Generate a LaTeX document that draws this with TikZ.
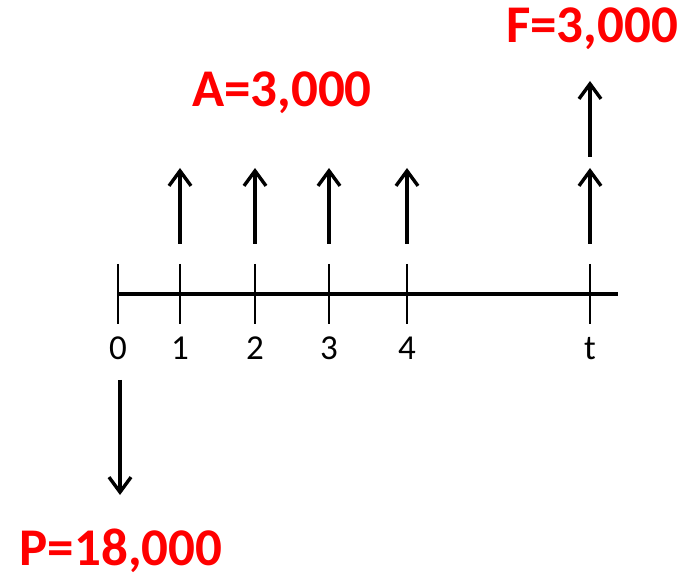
\documentclass[tikz,border=0pt]{standalone}
\usepackage{fontspec}
\setmainfont{Carlito}
\usetikzlibrary{arrows.meta}
\begin{document}
\begin{tikzpicture}[x=1pt,y=-1pt,
  axisline/.style={line width=3.6pt},
  tickline/.style={line width=1.1pt},
  flow/.style={line width=3.4pt,-{Straight Barb[length=15pt,width=22pt,line width=3.4pt]}},
  ticklabel/.style={anchor=base,inner sep=0pt,font=\fontsize{35}{40}\selectfont},
  money/.style={anchor=base,inner sep=0pt,text=red,font=\fontsize{53}{60}\selectfont\bfseries}]
\useasboundingbox (0,0) rectangle (686,577);
% axis
\coordinate (a0) at (118,294);
\coordinate (a1) at (618,294);
\draw[axisline] (a0) -- (a1);
% ticks and labels
\foreach \n/\x/\l in {0/118/0,1/180/1,2/255/2,3/329/3,4/407/4,t/590/t}{
  \coordinate (top\n) at (\x,264);
  \coordinate (bot\n) at (\x,324);
  \draw[tickline] (top\n) -- (bot\n);
  \node[ticklabel] (lab\n) at (\x,360) {\l};
}
% annual receipts
\foreach \n/\x in {1/180,2/255,3/329,4/407,t/590}{
  \coordinate (s\n) at (\x,244);
  \coordinate (e\n) at (\x,168);
  \draw[flow] (s\n) -- (e\n);
}
% future value arrow
\coordinate (fs) at (590,157);
\coordinate (fe) at (590,81);
\draw[flow] (fs) -- (fe);
% present value arrow
\coordinate (ps) at (120,380);
\coordinate (pe) at (120,495);
\draw[flow] (ps) -- (pe);
% labels
\node[money] (A) at (282,107) {A=3,000};
\node[money] (F) at (592,43) {F=3,000};
\node[money] (P) at (121,565) {P=18,000};
\end{tikzpicture}
\end{document}
